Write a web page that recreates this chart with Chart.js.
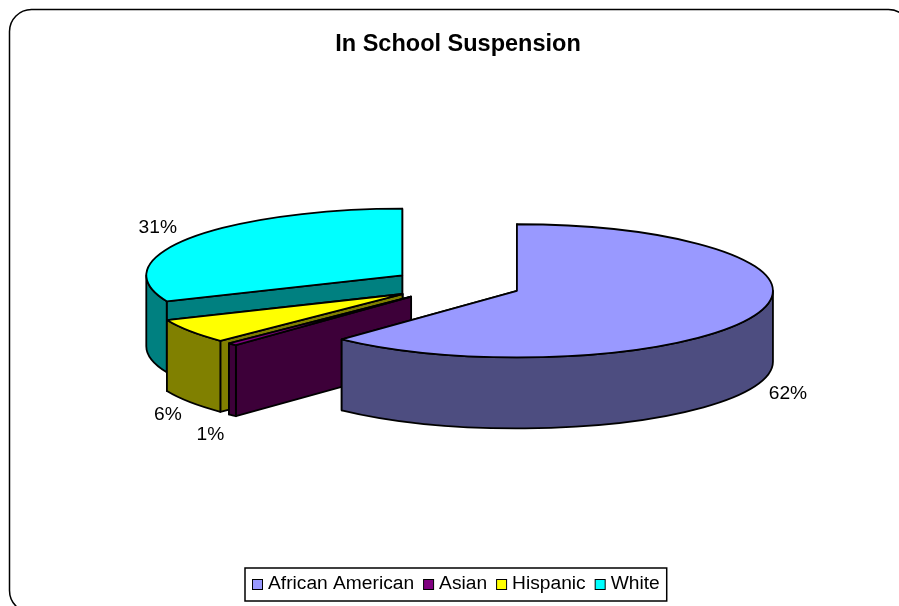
<!DOCTYPE html>
<html>
<head>
<meta charset="utf-8">
<title>In School Suspension</title>
<script src="https://cdn.jsdelivr.net/npm/chart.js@4/dist/chart.umd.min.js"></script>
<style>
    html, body { margin: 0; padding: 0; background: #fff; overflow: hidden; }
    canvas { display: block; }
</style>
</head>
<body>
<canvas id="chart-pie" width="899" height="606"></canvas>
<script>
const categories = ['African American', 'Asian', 'Hispanic', 'White'];
const shares = [62, 0.6, 6, 31.4];

const topColors = ['#9999ff', '#800080', '#ffff00', '#00ffff'];
const wallColors = ['#4d4d80', '#3d0039', '#808000', '#008080'];

// the look of the old 3D pie: flattened disc, pulled apart, with a thick wall
const tilt = 0.26;
const explode = 65;
const depth = 71;
const shiftX = -1.5;
const labelGaps = [[33, 7], [-22, 19], [-22, 13], [-31, -11]];
const fontFamily = '"Liberation Sans", Arial, sans-serif';

const pie3d = {
    id: 'pie3d',
    beforeDraw(chart) {
        const ctx = chart.ctx;
        ctx.save();
        ctx.fillStyle = '#fff';
        ctx.fillRect(0, 0, chart.width, chart.height);
        ctx.beginPath();
        ctx.roundRect(9.5, 9.5, 901, 603, 22);
        ctx.strokeStyle = '#000';
        ctx.lineWidth = 1.5;
        ctx.stroke();
        ctx.restore();
    },
    beforeDatasetsDraw(chart) {
        const ctx = chart.ctx;
        const arcs = chart.getDatasetMeta(0).data;
        // back slices first, so the front ones cover them
        for (let i = arcs.length - 1; i >= 0; i--) {
            this.drawSlice(ctx, arcs[i], i);
        }
        arcs.forEach((arc, i) => this.drawLabel(ctx, arc, i));
        this.drawLegend(chart);
        return false;
    },
    apex(arc) {
        const mid = (arc.startAngle + arc.endAngle) / 2;
        return {
            x: arc.x + shiftX + Math.cos(mid) * explode,
            y: arc.y + Math.sin(mid) * explode * tilt
        };
    },
    drawSlice(ctx, arc, i) {
        const a = this.apex(arc);
        const rx = arc.outerRadius;
        const ry = rx * tilt;
        const px = (t) => a.x + Math.cos(t) * rx;
        const py = (t) => a.y + Math.sin(t) * ry;

        ctx.save();
        ctx.lineJoin = 'round';
        ctx.lineWidth = 1.8;
        ctx.strokeStyle = '#000';
        ctx.fillStyle = wallColors[i];

        // both cut faces, the hidden one first
        [arc.endAngle, arc.startAngle].forEach((t) => {
            ctx.beginPath();
            ctx.moveTo(a.x, a.y);
            ctx.lineTo(px(t), py(t));
            ctx.lineTo(px(t), py(t) + depth);
            ctx.lineTo(a.x, a.y + depth);
            ctx.closePath();
            ctx.fill();
            ctx.stroke();
        });

        // rim, only the part that faces the viewer
        const from = Math.max(arc.startAngle, 0);
        const to = Math.min(arc.endAngle, Math.PI);
        if (from < to) {
            ctx.beginPath();
            ctx.ellipse(a.x, a.y, rx, ry, 0, from, to);
            ctx.lineTo(px(to), py(to) + depth);
            ctx.ellipse(a.x, a.y + depth, rx, ry, 0, to, from, true);
            ctx.closePath();
            ctx.fill();
            ctx.stroke();
        }

        // top face, the library's own arc squeezed flat
        ctx.save();
        ctx.translate(a.x, a.y);
        ctx.scale(1, tilt);
        ctx.translate(-arc.x, -arc.y);
        arc.draw(ctx);
        ctx.restore();

        ctx.beginPath();
        ctx.moveTo(a.x, a.y);
        ctx.ellipse(a.x, a.y, rx, ry, 0, arc.startAngle, arc.endAngle);
        ctx.closePath();
        ctx.stroke();
        ctx.restore();
    },
    drawLabel(ctx, arc, i) {
        const a = this.apex(arc);
        const mid = (arc.startAngle + arc.endAngle) / 2;
        const total = shares.reduce((sum, v) => sum + v, 0);
        const front = Math.sin(mid) > 0 ? depth : 0;
        const x = a.x + Math.cos(mid) * arc.outerRadius + labelGaps[i][0];
        const y = a.y + Math.sin(mid) * arc.outerRadius * tilt + front + labelGaps[i][1];
        ctx.save();
        ctx.font = '19.2px ' + fontFamily;
        ctx.fillStyle = '#000';
        ctx.textAlign = 'center';
        ctx.textBaseline = 'middle';
        ctx.fillText(Math.round(shares[i] / total * 100) + '%', x, y);
        ctx.restore();
    },
    drawLegend(chart) {
        const ctx = chart.ctx;
        ctx.save();
        ctx.font = '19.2px ' + fontFamily;
        ctx.textBaseline = 'middle';
        const left = 245;
        const top = 568;
        const widths = categories.map((c) => ctx.measureText(c).width);
        const width = widths.reduce((sum, w) => sum + w + 25, 0) - 9 + 14;

        ctx.fillStyle = '#fff';
        ctx.strokeStyle = '#000';
        ctx.lineWidth = 1.5;
        ctx.fillRect(left, top, width, 33);
        ctx.strokeRect(left, top, width, 33);

        let x = left + 7;
        categories.forEach((c, i) => {
            ctx.fillStyle = topColors[i];
            ctx.lineWidth = 1;
            ctx.fillRect(x + 0.5, top + 11.5, 10, 10);
            ctx.strokeRect(x + 0.5, top + 11.5, 10, 10);
            ctx.fillStyle = '#000';
            ctx.fillText(c, x + 16, top + 16);
            x += 25 + widths[i];
        });
        ctx.restore();
    }
};

const theChart = new Chart(document.getElementById('chart-pie'), {
    type: 'pie',
    data: {
        labels: categories,
        datasets: [{
            data: shares,
            backgroundColor: topColors,
            borderWidth: 0
        }]
    },
    options: {
        responsive: false,
        animation: false,
        radius: 256,
        layout: {
            padding: { left: 17, right: 0, top: 30, bottom: 105 }
        },
        plugins: {
            legend: { display: false },
            tooltip: { enabled: false },
            title: {
                display: true,
                text: 'In School Suspension',
                color: '#000',
                padding: { top: 0, bottom: 10 },
                font: { family: fontFamily, size: 23.5, weight: 'bold' }
            }
        }
    },
    plugins: [pie3d]
});
</script>
</body>
</html>
